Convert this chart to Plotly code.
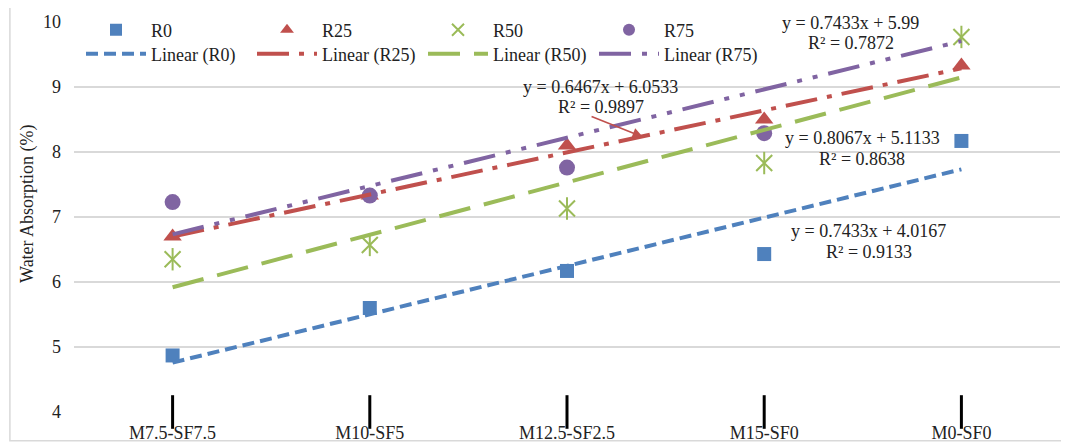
import numpy as np
import plotly.graph_objects as go

categories = ["M7.5-SF7.5", "M10-SF5", "M12.5-SF2.5", "M15-SF0", "M0-SF0"]
series_names = ["R0", "R25", "R50", "R75"]
r0 = [4.87, 5.60, 6.17, 6.43, 8.17]
r25 = [6.70, 7.33, 8.10, 8.50, 9.33]
r50 = [6.35, 6.57, 7.13, 7.83, 9.77]
r75 = [7.23, 7.33, 7.76, 8.29, 10.47]
slopes = [0.7433, 0.6467, 0.8067, 0.7433]
intercepts = [4.0167, 6.0533, 5.1133, 5.99]
r_squared = [0.9133, 0.9897, 0.8638, 0.7872]
y_ticks = [4, 5, 6, 7, 8, 9, 10]
y_title = "Water Absorption (%)"

colors = ["#4F81BD", "#C0504D", "#9BBB59", "#8064A2"]
dashes = ["12px,6px", "32px,10px,5px,10px", "32px,14px", "32px,11px,5px,11px,5px,11px"]
symbols = ["square", "triangle-up", "x-thin-open", "circle"]
msizes = [14, 16, 16, 16]

FONT = "Liberation Serif, Times New Roman, serif"
TXT = "#222"
xi = np.arange(len(categories))
data = [r0, r25, r50, r75]

fig = go.Figure()

# axis tick marks crossing the category axis (black, solid)
fig.add_trace(go.Scatter(x=xi, y=[y_ticks[0]] * len(categories), mode="markers",
                         showlegend=False, hoverinfo="skip", cliponaxis=False,
                         marker=dict(symbol="line-ns", size=24, color="#000",
                                     line=dict(color="#000", width=3))))

# markers
for name, vals, c, s, ms in zip(series_names, data, colors, symbols, msizes):
    if s == "x-thin-open":
        marker = dict(symbol=s, size=ms, color=c, line=dict(color=c, width=2))
    else:
        marker = dict(symbol=s, size=ms, color=c, line=dict(width=0))
    fig.add_trace(go.Scatter(x=xi, y=vals, mode="markers", name=name, marker=marker,
                             legend="legend", legendgroup=name))
    if s == "x-thin-open":
        fig.add_trace(go.Scatter(x=xi, y=vals, mode="markers", name=name, showlegend=False,
                                 legendgroup=name,
                                 marker=dict(symbol="line-ns-open", size=ms, color=c,
                                             line=dict(color=c, width=2))))

# trendlines
for name, m, b, c, d in zip(series_names, slopes, intercepts, colors, dashes):
    yfit = m * (xi + 1) + b
    fig.add_trace(go.Scatter(x=xi, y=yfit, mode="lines", name=f"Linear ({name})",
                             line=dict(color=c, width=4, dash=d), legend="legend2"))

# equation annotations: (x, y of equation line, y of R² line)
eq_pos = {3: (3.44, 9.985, 9.677), 1: (2.17, 9.0, 8.692),
          2: (3.496, 8.215, 7.892), 0: (3.53, 6.785, 6.462)}
for i, (px, py1, py2) in eq_pos.items():
    m, b, r2 = slopes[i], intercepts[i], r_squared[i]
    fig.add_annotation(x=px, y=py1, xref="x", yref="y", showarrow=False,
                       xanchor="center", yanchor="middle",
                       text=f"y = {m:g}x + {b:g}",
                       font=dict(family=FONT, size=18, color=TXT))
    fig.add_annotation(x=px, y=py2, xref="x", yref="y", showarrow=False,
                       xanchor="center", yanchor="middle",
                       text=f"R² = {r2:g}",
                       font=dict(family=FONT, size=18, color=TXT))

fig.add_annotation(x=2.385, y=8.23, ax=2.117, ay=8.554, xref="x", yref="y", axref="x", ayref="y",
                   text="", showarrow=True, arrowhead=2, arrowsize=1.3, arrowwidth=1.6,
                   arrowcolor="#C0504D", standoff=0, startstandoff=0)

# y-axis title
fig.add_annotation(x=-0.0467, y=0.536, xref="paper", yref="paper", text=y_title, textangle=-90,
                   xanchor="center", yanchor="middle",
                   showarrow=False, font=dict(family=FONT, size=18, color=TXT))

# outer chart frame
fig.add_shape(type="rect", xref="paper", yref="paper", x0=-0.065, x1=1.005, y0=-0.074, y1=1.0385,
              line=dict(color="#D9D9D9", width=1.5), layer="below")

# page body adds an 8px margin; the figure is sized so the plot lands where the reference has it
fig.update_layout(
    width=1061, height=436,
    margin=dict(l=66, r=9, t=14, b=32, autoexpand=False),
    paper_bgcolor="white", plot_bgcolor="white",
    font=dict(family=FONT, size=16, color=TXT),
    xaxis=dict(range=[-0.5, len(categories) - 0.5], tickvals=list(xi), ticktext=categories,
               ticks="outside", ticklen=4, tickwidth=1, tickcolor="rgba(0,0,0,0)", automargin=False,
               showgrid=False, zeroline=False, showline=False,
               tickfont=dict(size=18, family=FONT, color=TXT)),
    yaxis=dict(range=[4, 10], tickvals=y_ticks, showgrid=True, gridcolor="#D9D9D9", gridwidth=1.5,
               zeroline=False, showline=False, ticks="", ticklabelstandoff=12, automargin=False,
               tickfont=dict(size=18, family=FONT, color=TXT)),
    legend=dict(orientation="h", x=0.0071, y=0.9795, xanchor="left", yanchor="middle",
                entrywidth=96, entrywidthmode="pixels", itemwidth=60, itemsizing="constant",
                font=dict(size=18, family=FONT, color=TXT), bgcolor="rgba(0,0,0,0)"),
    legend2=dict(orientation="h", x=0.0071, y=0.918, xanchor="left", yanchor="middle",
                 entrywidth=96, entrywidthmode="pixels", itemwidth=60,
                 font=dict(size=18, family=FONT, color=TXT), bgcolor="rgba(0,0,0,0)"),
    showlegend=True,
)

fig.write_html("out.html")
